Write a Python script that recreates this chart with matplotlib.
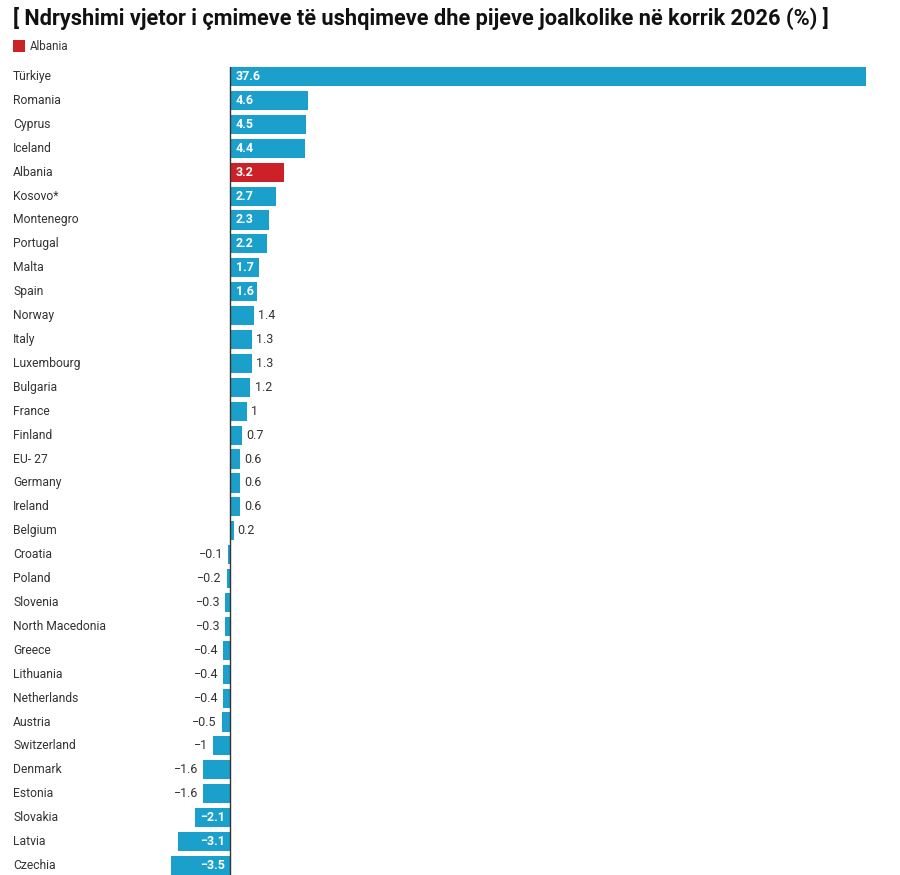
import matplotlib
matplotlib.use("Agg")
import matplotlib.pyplot as plt
from matplotlib.transforms import blended_transform_factory
from matplotlib.patches import Rectangle

countries = ["Türkiye", "Romania", "Cyprus", "Iceland", "Albania", "Kosovo*", "Montenegro",
             "Portugal", "Malta", "Spain", "Norway", "Italy", "Luxembourg", "Bulgaria", "France",
             "Finland", "EU- 27", "Germany", "Ireland", "Belgium", "Croatia", "Poland", "Slovenia",
             "North Macedonia", "Greece", "Lithuania", "Netherlands", "Austria", "Switzerland",
             "Denmark", "Estonia", "Slovakia", "Latvia", "Czechia"]
values = [37.6, 4.6, 4.5, 4.4, 3.2, 2.7, 2.3, 2.2, 1.7, 1.6, 1.4, 1.3, 1.3, 1.2, 1.0,
          0.7, 0.6, 0.6, 0.6, 0.2, -0.1, -0.2, -0.3, -0.3, -0.4, -0.4, -0.4, -0.5, -1.0,
          -1.6, -1.6, -2.1, -3.1, -3.5]
highlight = "Albania"

title = "[ Ndryshimi vjetor i çmimeve të ushqimeve dhe pijeve joalkolike në korrik 2026 (%) ]"

BLUE = "#1ba0cc"
RED = "#cc2127"
TXT = "#333333"

plt.rcParams['font.family'] = ['Roboto', 'DejaVu Sans']

fig = plt.figure(figsize=(9, 8.75), dpi=100)
ax = fig.add_axes([171/900, 0, (866-171)/900, 1 - 67/875])
ax.set_xlim(-3.5, 37.6)
n = len(countries)
ax.set_ylim(n - 0.6, -0.4)
ax.axis('off')

ys = list(range(n))
colors = [RED if c == highlight else BLUE for c in countries]
ax.barh(ys, values, height=0.8, color=colors, zorder=2)
ax.axvline(0, color=TXT, lw=1, zorder=3)

def fmt(v):
    s = f"{v:g}"
    return s.replace("-", "\u2212")

for y, v in zip(ys, values):
    inside = (v >= 1.5) or (v <= -2.0)
    if inside:
        if v > 0:
            ax.annotate(fmt(v), (0, y), xytext=(4, 0), textcoords='offset points',
                        ha='left', va='center', color='white', fontsize=9, fontweight='bold', zorder=4)
        else:
            ax.annotate(fmt(v), (0, y), xytext=(-4, 0), textcoords='offset points',
                        ha='right', va='center', color='white', fontsize=9, fontweight='bold', zorder=4)
    else:
        if v > 0:
            ax.annotate(fmt(v), (v, y), xytext=(3, 0), textcoords='offset points',
                        ha='left', va='center', color=TXT, fontsize=9, zorder=4)
        else:
            ax.annotate(fmt(v), (v, y), xytext=(-3.5, 0), textcoords='offset points',
                        ha='right', va='center', color=TXT, fontsize=9, zorder=4)

tr = blended_transform_factory(fig.transFigure, ax.transData)
for y, c in zip(ys, countries):
    ax.text(13/900, y, c, transform=tr, ha='left', va='center', fontsize=8.75, color=TXT)

fig.text(13/900, 1 - 18/875, title, ha='left', va='center', fontsize=15.7, fontweight='bold', color='#111111')
fig.patches.append(Rectangle((13/900, 1 - 52/875), 12/900, 12/875, transform=fig.transFigure,
                             facecolor=RED, edgecolor='none'))
fig.text(30/900, 1 - 46/875, "Albania", ha='left', va='center', fontsize=8.4, color=TXT)

fig.savefig("out.png", dpi=100, facecolor='white')
